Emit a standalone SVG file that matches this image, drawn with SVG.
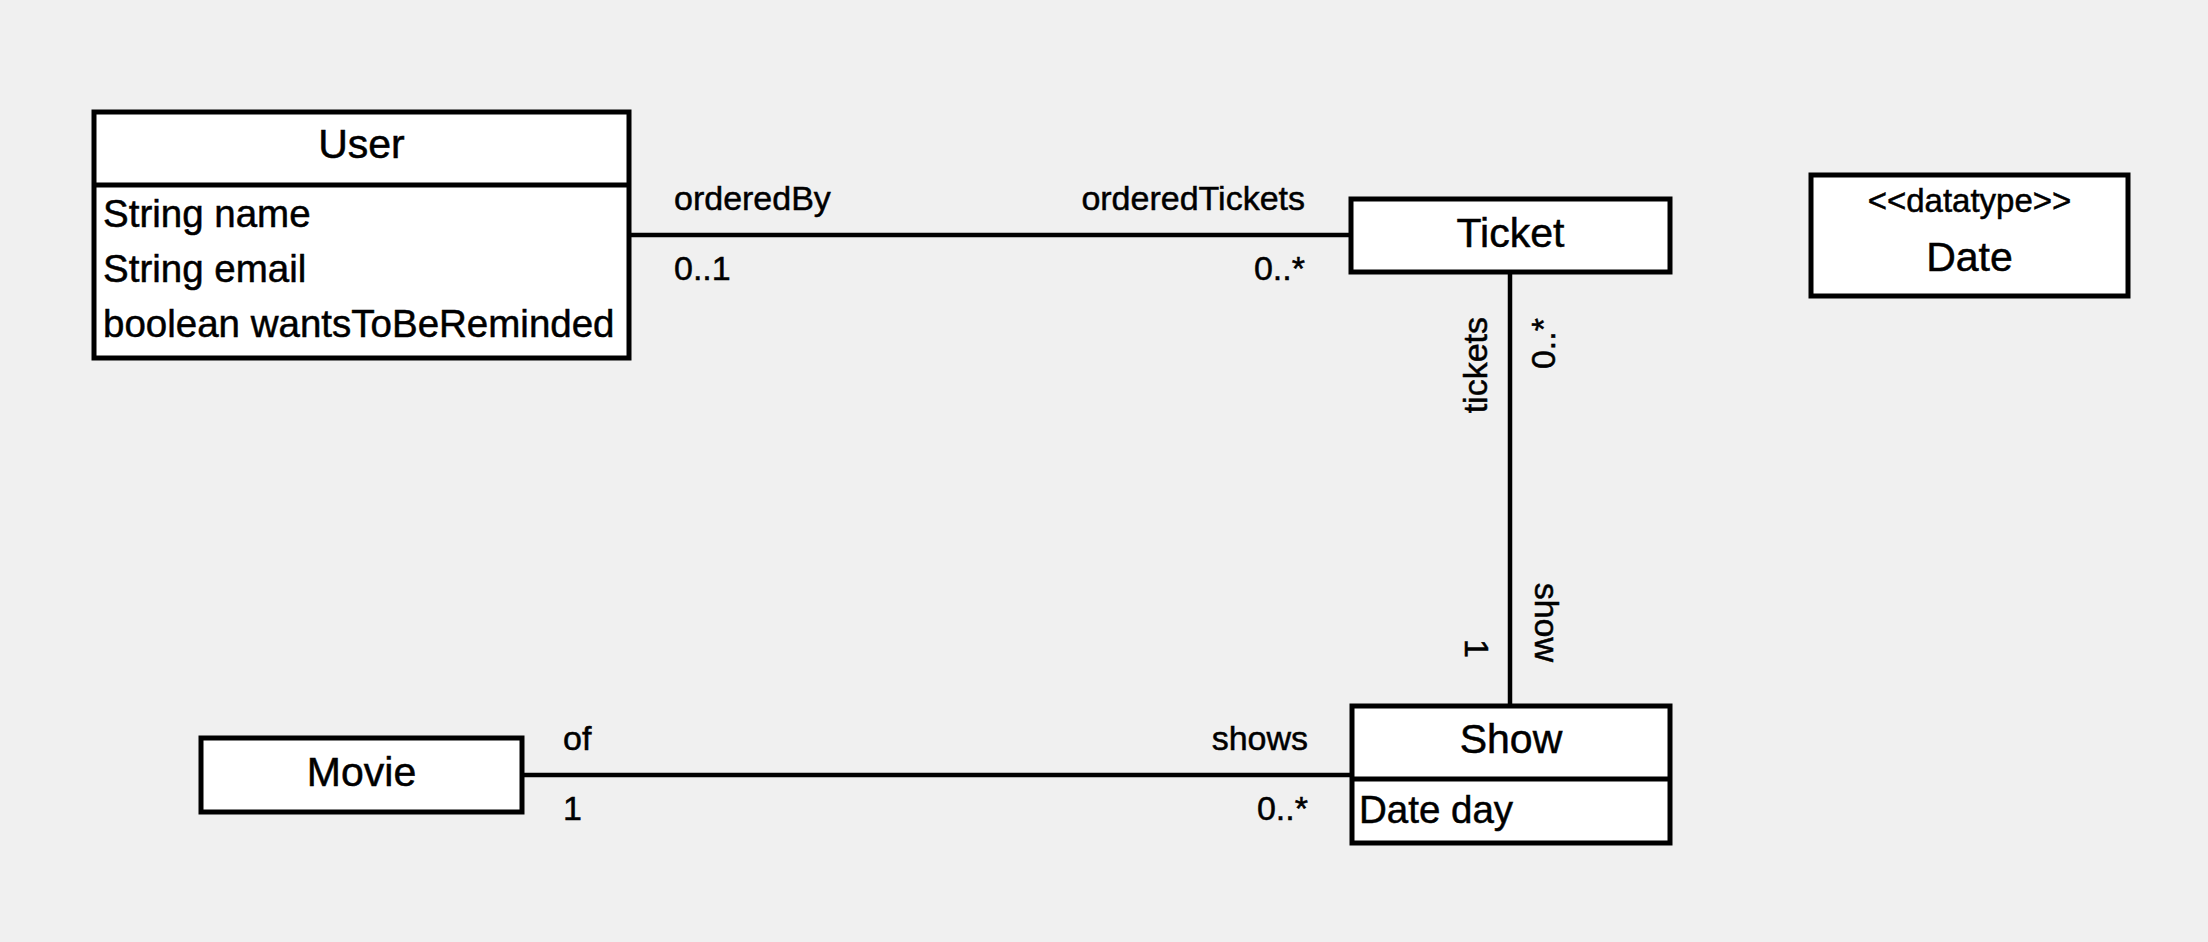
<svg xmlns="http://www.w3.org/2000/svg" width="2208" height="942" viewBox="0 0 2208 942">
<style>
.box{fill:#ffffff;stroke:#000000;stroke-width:5}
.div{stroke:#000000;stroke-width:5}
.edge{stroke:#000000;stroke-width:4.5;fill:none}
text{stroke:#000000;stroke-width:0.5}
.name{font-family:"Liberation Sans",Arial,sans-serif;font-size:41px;fill:#000;text-anchor:middle}
.attr{font-family:"Liberation Sans",Arial,sans-serif;font-size:38.5px;fill:#000}
.lbl{font-family:"Liberation Sans",Arial,sans-serif;font-size:34px;fill:#000}
.st{font-family:"Liberation Sans",Arial,sans-serif;font-size:33px;fill:#000;text-anchor:middle}
.end{text-anchor:end}
</style>
<rect width="2208" height="942" fill="#f0f0f0" stroke="none"/>
<g id="connectors">
  <g id="user-ticket">
    <line class="edge" x1="629" y1="235" x2="1351" y2="235"/>
    <text class="lbl" x="674" y="210">orderedBy</text>
    <text class="lbl" x="674" y="280">0..1</text>
    <text class="lbl end" x="1305" y="210">orderedTickets</text>
    <text class="lbl end" x="1305" y="280">0..*</text>
  </g>
  <g id="ticket-show">
    <line class="edge" x1="1510" y1="272" x2="1510" y2="706"/>
    <text class="lbl end" transform="translate(1487,317) rotate(-90)">tickets</text>
    <text class="lbl end" transform="translate(1555,318) rotate(-90)">0..*</text>
    <text class="lbl end" transform="translate(1465,658) rotate(90)">1</text>
    <text class="lbl end" transform="translate(1535,662) rotate(90)">show</text>
  </g>
  <g id="movie-show">
    <line class="edge" x1="522" y1="775" x2="1352" y2="775"/>
    <text class="lbl" x="563" y="750">of</text>
    <text class="lbl" x="563" y="820">1</text>
    <text class="lbl end" x="1308" y="750">shows</text>
    <text class="lbl end" x="1308" y="820">0..*</text>
  </g>
</g>
<g id="User">
  <rect class="box" x="94" y="112" width="535" height="246"/>
  <line class="div" x1="94" y1="185" x2="629" y2="185"/>
  <text class="name" x="361.5" y="158">User</text>
  <text class="attr" x="103" y="227">String name</text>
  <text class="attr" x="103" y="282">String email</text>
  <text class="attr" x="103" y="337">boolean wantsToBeReminded</text>
</g>
<g id="Ticket">
  <rect class="box" x="1351" y="199" width="319" height="73"/>
  <text class="name" x="1510.5" y="247">Ticket</text>
</g>
<g id="Date">
  <rect class="box" x="1811" y="175" width="317" height="121"/>
  <text class="st" x="1969.5" y="212">&lt;&lt;datatype&gt;&gt;</text>
  <text class="name" x="1969.5" y="271">Date</text>
</g>
<g id="Show">
  <rect class="box" x="1352" y="706" width="318" height="137"/>
  <line class="div" x1="1352" y1="779" x2="1670" y2="779"/>
  <text class="name" x="1511" y="753">Show</text>
  <text class="attr" x="1359" y="823">Date day</text>
</g>
<g id="Movie">
  <rect class="box" x="201" y="738" width="321" height="74"/>
  <text class="name" x="361.5" y="786">Movie</text>
</g>
</svg>
